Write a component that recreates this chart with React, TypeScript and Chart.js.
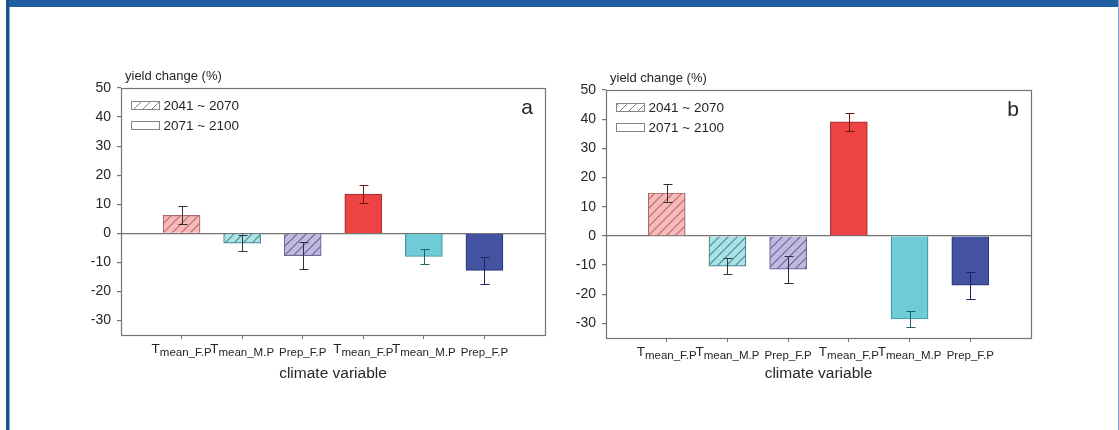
import React, { useEffect, useRef } from 'react';
import { Chart, registerables } from 'chart.js';

Chart.register(...registerables);

// ---------------- data ----------------
const categories = ['Tmean_F.P', 'Tmean_M.P', 'Prep_F.P', 'Tmean_F.P', 'Tmean_M.P', 'Prep_F.P'];
const legendLabels = ['2041 ~ 2070', '2071 ~ 2100'];
const hatchedBar = [true, true, true, false, false, false];

const valuesA = [6.2, -3.4, -7.7, 13.5, -8.0, -12.8];
const errorsA = [3.1, 2.8, 4.7, 3.0, 2.7, 4.7];

const valuesB = [14.7, -10.4, -11.4, 39.1, -28.5, -16.9];
const errorsB = [3.0, 2.7, 4.6, 3.1, 2.8, 4.6];

const yTicks = [-30, -20, -10, 0, 10, 20, 30, 40, 50];
const yMin = -35;
const yMax = 50;
const yTitle = 'yield change (%)';
const xTitle = 'climate variable';

// ---------------- styles ----------------
const FONT = '"Liberation Sans", Arial, Helvetica, sans-serif';
const TEXT = '#262626';
const AXIS = '#737373';
const fillColors = ['#f6baba', '#afe2e6', '#bebae0', '#ee4343', '#6ecbd7', '#4452a2'];
const hatchColors = ['#bd6a6a', '#468f97', '#6c6698', '', '', ''];
const borderColors = ['#a86a6a', '#468a92', '#6c689c', '#a83232', '#3f95a0', '#2d3781'];
const errorColors = ['#3b2c2c', '#2a3b3c', '#302f40', '#6b1616', '#1f5f66', '#1d2560'];

function makeHatch(bg: string, line: string, lw: number) {
  const s = 9;
  const c = document.createElement('canvas');
  c.width = s;
  c.height = s;
  const g = c.getContext('2d')!;
  g.fillStyle = bg;
  g.fillRect(0, 0, s, s);
  g.strokeStyle = line;
  g.lineWidth = lw;
  g.beginPath();
  g.moveTo(0, s);
  g.lineTo(s, 0);
  g.moveTo(-s / 2, s / 2);
  g.lineTo(s / 2, -s / 2);
  g.moveTo(s / 2, s * 1.5);
  g.lineTo(s * 1.5, s / 2);
  g.stroke();
  return g.createPattern(c, 'repeat')!;
}

const decorPlugin = {
  id: 'decor',
  afterDatasetsDraw(chart: any, _args: any, opts: any) {
    const { ctx, chartArea: ca, scales } = chart;
    const xs = scales.x;
    const ys = scales.y;
    const meta = chart.getDatasetMeta(0);
    ctx.save();

    // error bars
    opts.values.forEach((v: number, i: number) => {
      const bar = meta.data[i];
      if (!bar) return;
      const px = Math.round(bar.x) + 0.5;
      const y1 = Math.round(ys.getPixelForValue(v + opts.errors[i])) + 0.5;
      const y2 = Math.round(ys.getPixelForValue(v - opts.errors[i])) + 0.5;
      ctx.strokeStyle = errorColors[i];
      ctx.lineWidth = 1;
      ctx.beginPath();
      ctx.moveTo(px, y1);
      ctx.lineTo(px, y2);
      ctx.moveTo(px - 4, y1);
      ctx.lineTo(px + 5, y1);
      ctx.moveTo(px - 4, y2);
      ctx.lineTo(px + 5, y2);
      ctx.stroke();
    });

    // frame box
    ctx.strokeStyle = AXIS;
    ctx.lineWidth = 1.2;
    ctx.strokeRect(
      Math.round(ca.left) + 0.5,
      Math.round(ca.top) + 0.5,
      Math.round(ca.right) - Math.round(ca.left),
      Math.round(ca.bottom) - Math.round(ca.top)
    );

    // x category labels with subscript
    ctx.fillStyle = TEXT;
    ctx.textBaseline = 'alphabetic';
    ctx.textAlign = 'left';
    const base = ca.bottom + 21;
    categories.forEach((lab, i) => {
      const cx = xs.getPixelForValue(i + 1);
      let main = '';
      let sub = lab;
      if (lab.startsWith('Tmean')) {
        main = 'T';
        sub = lab.slice(1);
      }
      ctx.font = `13.5px ${FONT}`;
      const wm = main ? ctx.measureText(main).width : 0;
      ctx.font = `11.5px ${FONT}`;
      const ws = ctx.measureText(sub).width;
      const start = cx - (wm + ws) / 2;
      if (main) {
        ctx.font = `13.5px ${FONT}`;
        ctx.fillText(main, start, base - 3);
      }
      ctx.font = `11.5px ${FONT}`;
      ctx.fillText(sub, start + wm, base);
    });

    // y title
    ctx.font = `13px ${FONT}`;
    ctx.fillText(yTitle, ca.left + 4, ca.top - 8);

    // legend
    legendLabels.forEach((lab, i) => {
      const bx = Math.round(ca.left + 10) + 0.5;
      const by = Math.round(ca.top + 13 + i * 20) + 0.5;
      const bw = 28;
      const bh = 8;
      ctx.fillStyle = i === 0 ? opts.legendHatch : '#ffffff';
      ctx.fillRect(bx, by, bw, bh);
      ctx.strokeStyle = '#858585';
      ctx.lineWidth = 1;
      ctx.strokeRect(bx, by, bw, bh);
      ctx.fillStyle = TEXT;
      ctx.font = `13.5px ${FONT}`;
      ctx.textBaseline = 'middle';
      ctx.fillText(lab, bx + bw + 4, by + bh / 2 + 0.5);
    });

    // panel letter
    ctx.textBaseline = 'alphabetic';
    ctx.textAlign = 'right';
    ctx.font = `21px ${FONT}`;
    ctx.fillText(opts.letter, ca.right - 12, ca.top + 26);

    ctx.restore();
  },
};

type PanelProps = {
  letter: string;
  values: number[];
  errors: number[];
  left: number;
  width: number;
  padding: { left: number; right: number; top: number; bottom: number };
  titlePad: number;
};

function Panel({ letter, values, errors, left, width, padding, titlePad }: PanelProps) {
  const ref = useRef<HTMLCanvasElement | null>(null);
  useEffect(() => {
    if (!ref.current) return;
    const bgs = fillColors.map((c, i) => (hatchedBar[i] ? makeHatch(c, hatchColors[i], 1.2) : c));
    const legendHatch = makeHatch('#ffffff', '#858585', 1);
    const chart = new Chart(ref.current, {
      type: 'bar',
      data: {
        datasets: [
          {
            data: values.map((v, i) => ({ x: i + 1, y: v })),
            backgroundColor: bgs as any,
            borderColor: borderColors,
            borderWidth: 1.2,
            barThickness: 37,
          } as any,
        ],
      },
      options: {
        animation: false,
        responsive: false,
        maintainAspectRatio: false,
        devicePixelRatio: 1,
        layout: { padding },
        scales: {
          x: {
            type: 'linear',
            min: 0,
            max: 7,
            offset: false,
            afterBuildTicks: (s: any) => {
              s.ticks = categories.map((_, i) => ({ value: i + 1 }));
            },
            afterFit: (s: any) => {
              s.height = 50;
            },
            ticks: { display: false },
            grid: {
              display: true,
              offset: false,
              drawOnChartArea: false,
              drawTicks: true,
              tickLength: 4,
              color: AXIS,
              tickColor: AXIS,
            },
            border: { display: false },
            title: {
              display: true,
              text: xTitle,
              color: TEXT,
              font: { family: FONT, size: 15.5 },
              padding: { top: 0, bottom: titlePad },
            },
          },
          y: {
            type: 'linear',
            min: yMin,
            max: yMax,
            afterBuildTicks: (s: any) => {
              s.ticks = yTicks.map((v) => ({ value: v }));
            },
            afterFit: (s: any) => {
              s.width = 40;
            },
            ticks: { color: TEXT, font: { family: FONT, size: 14 }, padding: 6 },
            grid: {
              display: true,
              drawOnChartArea: true,
              drawTicks: true,
              tickLength: 4,
              lineWidth: 1.2,
              color: (c: any) => (c.tick && c.tick.value === 0 ? AXIS : 'rgba(0,0,0,0)'),
              tickColor: AXIS,
            },
            border: { display: false },
          },
        } as any,
        plugins: {
          legend: { display: false },
          tooltip: { enabled: false },
          decor: { letter, values, errors, legendHatch },
        } as any,
      },
      plugins: [decorPlugin as any],
    });
    return () => chart.destroy();
  }, []);
  return (
    <canvas
      ref={ref}
      width={width}
      height={430}
      style={{ position: 'absolute', left, top: 0, width, height: 430 }}
    />
  );
}

export default function App() {
  return (
    <div
      style={{
        position: 'fixed',
        left: 0,
        top: 0,
        width: 1119,
        height: 430,
        background: '#ffffff',
        overflow: 'hidden',
      }}
    >
      <div style={{ position: 'absolute', left: 6, top: 0, width: 1113, height: 7, background: '#2060a2' }} />
      <div style={{ position: 'absolute', left: 6, top: 0, width: 3, height: 430, background: '#1f4f8a' }} />
      <div style={{ position: 'absolute', left: 9, top: 7, width: 1, height: 423, background: '#7ea6d6' }} />
      <div style={{ position: 'absolute', left: 1118, top: 0, width: 1, height: 430, background: '#7c9fcc' }} />
      <Panel
        letter="a"
        values={valuesA}
        errors={errorsA}
        left={0}
        width={560}
        padding={{ left: 81, right: 15, top: 88, bottom: 45 }}
        titlePad={2}
      />
      <Panel
        letter="b"
        values={valuesB}
        errors={errorsB}
        left={560}
        width={559}
        padding={{ left: 6, right: 88, top: 90, bottom: 42 }}
        titlePad={5}
      />
    </div>
  );
}
